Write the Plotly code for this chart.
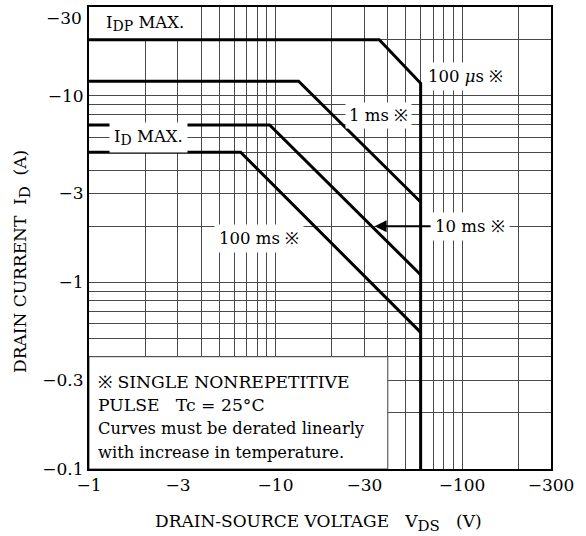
import math
import plotly.graph_objects as go

# ---- data (magnitudes; axis labels show negative sign) ----
idp_v = [1, 36, 60, 60]
idp_i = [20, 20, 11.7, 0.1]
ms1_v = [1, 13.3, 60]
ms1_i = [12, 12, 2.7]
ms10_v = [1, 9.3, 60]
ms10_i = [7, 7, 1.1]
ms100_v = [1, 6.5, 60]
ms100_i = [5, 5, 0.54]

x_grid = [1, 2, 3, 4, 5, 6, 7, 8, 9, 10, 20, 30, 40, 50, 60, 70, 80, 90, 100, 200, 300]
x_labels = {1: "−1", 3: "−3", 10: "−10", 30: "−30", 100: "−100", 300: "−300"}
y_grid = [0.1, 0.2, 0.3, 0.4, 0.5, 0.6, 0.7, 0.8, 0.9, 1, 2, 3, 4, 5, 6, 7, 8, 9, 10, 20, 30]
y_labels = {0.1: "−0.1", 0.3: "−0.3", 1: "−1", 3: "−3", 10: "−10", 30: "−30"}
y_top_label = 30   # drawn slightly lower (as an annotation) so it is not cut at the page top

FONT = "DejaVu Serif"
GRID = "#4a4a4a"

PL, PR, PT, PB = 89, 551, 7, 469   # plot area in page pixels


def px(x):
    return (x - PL) / (PR - PL)


def py(y):
    return (PB - y) / (PB - PT)


fig = go.Figure()
for v, i in [(idp_v, idp_i), (ms1_v, ms1_i), (ms10_v, ms10_i), (ms100_v, ms100_i)]:
    fig.add_trace(go.Scatter(x=v, y=i, mode="lines",
                             line=dict(color="black", width=3),
                             hoverinfo="skip", showlegend=False))

L = math.log10

# white areas hiding the grid
fig.add_shape(type="rect", xref="x", yref="y", x0=1, x1=3.85, y0=20, y1=30,
              fillcolor="white", line=dict(width=0), layer="between")
fig.add_shape(type="rect", xref="x", yref="y", x0=1, x1=40, y0=0.1, y1=0.4,
              fillcolor="white", line=dict(color=GRID, width=1), layer="between")

ann_font = dict(family=FONT, size=16.5, color="black")


def sub(s, size=14):
    return "<sub><span style='font-size:%dpx'>%s</span></sub>" % (size, s)


fig.add_annotation(x=L(2.0), y=L(24.5), xref="x", yref="y",
                   text="I" + sub("DP") + " MAX.", showarrow=False, font=ann_font)
fig.add_annotation(x=0.32, y=L(6), xref="x", yref="y",
                   text="I" + sub("D") + " MAX.", showarrow=False, font=ann_font,
                   bgcolor="white", borderpad=4)
fig.add_annotation(x=0.9115, y=0.237, xref="x", yref="y",
                   text="100 ms ※", showarrow=False, font=ann_font,
                   bgcolor="white", borderpad=4)
fig.add_annotation(x=1.5496, y=0.898, xref="x", yref="y",
                   text="1 ms ※", showarrow=False, font=ann_font,
                   bgcolor="white", borderpad=3)
fig.add_annotation(x=2.016, y=1.1035, xref="x", yref="y",
                   text="100 <i>μ</i>s ※", showarrow=False, font=ann_font,
                   bgcolor="white", borderpad=4)
fig.add_annotation(x=L(34), y=L(2), xref="x", yref="y",
                   ax=2.043, ay=L(2), axref="x", ayref="y",
                   text="10 ms ※", showarrow=True, arrowhead=2, arrowsize=1.2,
                   arrowwidth=2, arrowcolor="black", font=ann_font,
                   bgcolor="white", borderpad=4)

note_lines = ["※ SINGLE NONREPETITIVE",
              "PULSE\u00a0\u00a0\u00a0Tc = 25°C",
              "Curves must be derated linearly",
              "with increase in temperature."]
note_sizes = [17.2, 17.2, 16.3, 16.3]
note_y = [381.7, 405, 428.3, 452.7]
for t, s, yy in zip(note_lines, note_sizes, note_y):
    fig.add_annotation(x=px(96), y=py(yy), xref="paper", yref="paper",
                       text=t, showarrow=False, xanchor="left", yanchor="middle",
                       font=dict(family=FONT, size=s, color="black"))

tick_font = dict(family=FONT, size=17, color="black")
# top y tick label, nudged down like in the reference
fig.add_annotation(x=px(84), y=1, xref="paper", yref="y domain",
                   xanchor="right", yanchor="top", yshift=1,
                   text=y_labels[y_top_label], showarrow=False, font=tick_font)

title_font = dict(family=FONT, size=17, color="black")
fig.add_annotation(x=px(318), y=py(523), xref="paper", yref="paper",
                   xanchor="center", yanchor="middle",
                   text="DRAIN-SOURCE VOLTAGE\u00a0\u00a0\u00a0V" + sub("DS", 15) + "\u00a0\u00a0\u00a0(V)",
                   showarrow=False, font=title_font)
fig.add_annotation(x=px(22), y=py(262), xref="paper", yref="paper",
                   xanchor="center", yanchor="middle",
                   text="DRAIN CURRENT\u00a0\u00a0I" + sub("D", 15) + "\u00a0\u00a0(A)",
                   showarrow=False, textangle=-90, font=title_font)

fig.update_xaxes(type="log", range=[0, L(300)], automargin=False,
                 tickvals=x_grid, ticktext=[x_labels.get(v, "") for v in x_grid],
                 showgrid=True, gridcolor=GRID, gridwidth=1,
                 showline=True, linecolor="black", linewidth=2, mirror=True,
                 ticks="", zeroline=False, ticklabeloverflow="allow",
                 tickfont=tick_font)
fig.update_yaxes(type="log", range=[-1, L(30)], automargin=False,
                 tickvals=y_grid,
                 ticktext=["" if v == y_top_label else y_labels.get(v, "") for v in y_grid],
                 showgrid=True, gridcolor=GRID, gridwidth=1,
                 showline=True, linecolor="black", linewidth=2, mirror=True,
                 ticks="", zeroline=False, ticklabeloverflow="allow",
                 tickfont=tick_font)

W, H = 586, 536
fig.update_layout(width=W, height=H,
                  margin=dict(l=PL, r=W - PR, t=PT, b=H - PB, autoexpand=False),
                  paper_bgcolor="white", plot_bgcolor="white",
                  showlegend=False)

fig.write_html("out.html", config={"displayModeBar": False},
               post_script="document.body.style.margin='0px';"
                           "document.documentElement.style.overflow='hidden';")
